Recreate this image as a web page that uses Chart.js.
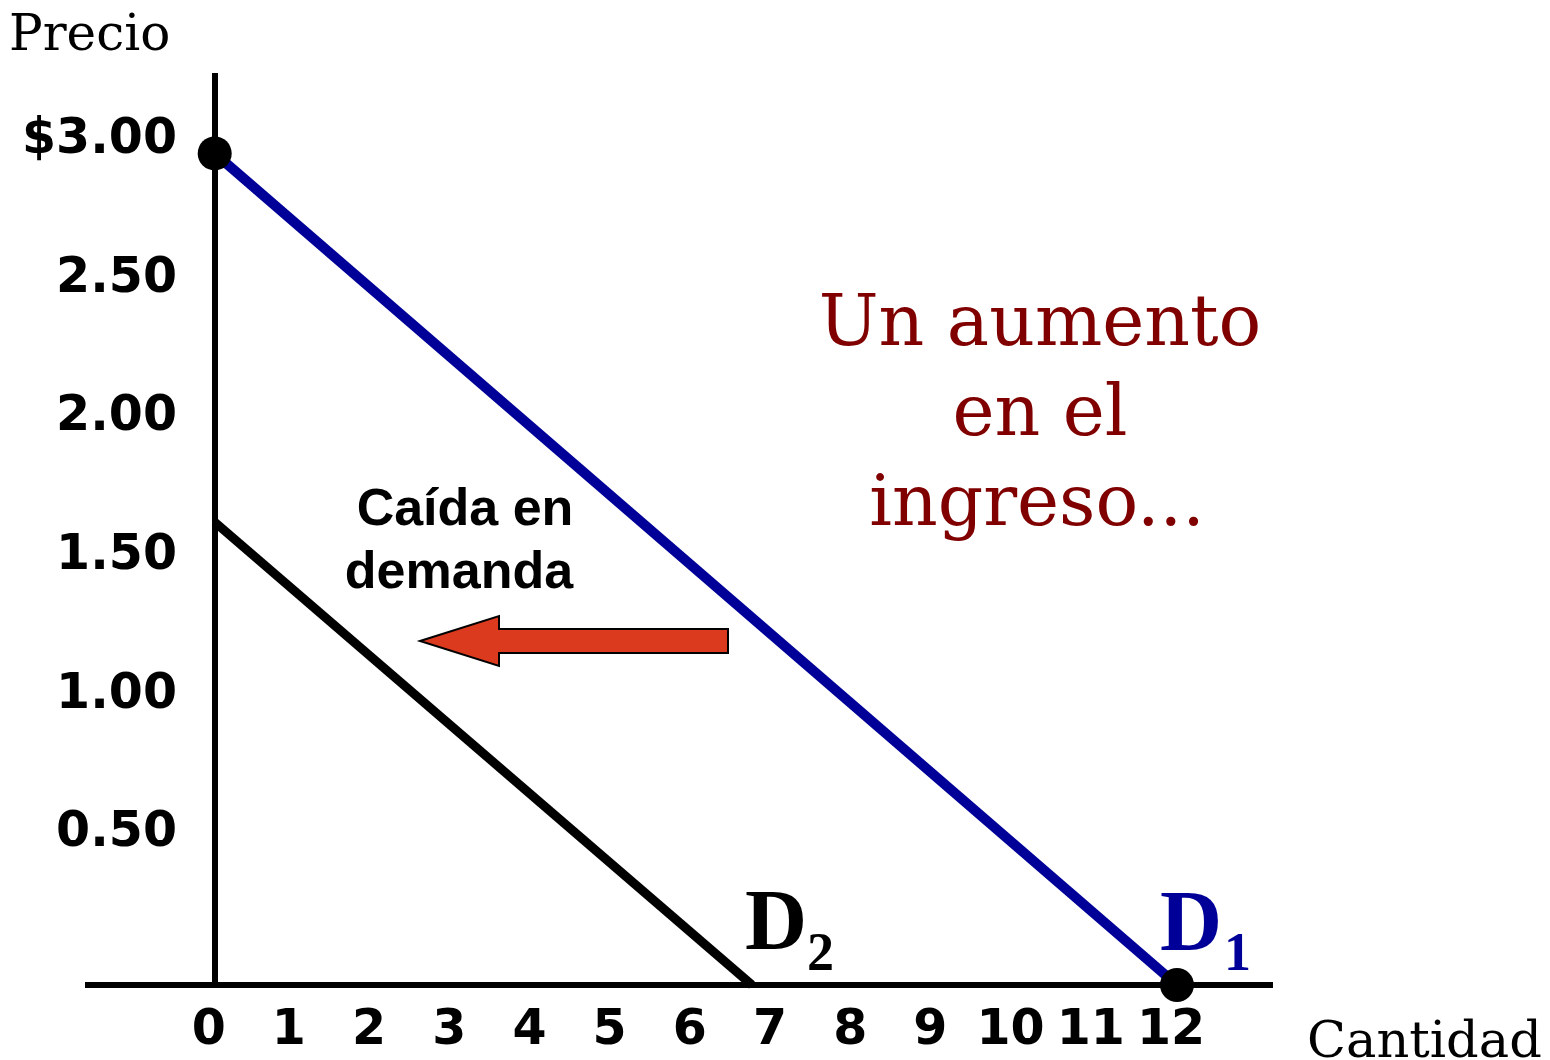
<!DOCTYPE html>
<html>
<head>
<meta charset="utf-8">
<title>Caída en demanda</title>
<script src="https://cdn.jsdelivr.net/npm/chart.js@4.4.1/dist/chart.umd.min.js"></script>
<style>
  html, body { margin: 0; padding: 0; background: #fff; }
  canvas { display: block; }
</style>
</head>
<body>
<canvas id="demandChart" width="1550" height="1060"></canvas>
<script>
// quantity axis ticks
const quantityTicks = [0, 1, 2, 3, 4, 5, 6, 7, 8, 9, 10, 11, 12];
const quantityLabels = ['0', '1', '2', '3', '4', '5', '6', '7', '8', '9', '10', '11', '12'];

// price axis ticks
const priceTicks = [0.5, 1, 1.5, 2, 2.5, 3];
const priceLabels = ['0.50', '1.00', '1.50', '2.00', '2.50', '$3.00'];

// demand curves (quantity, price)
const d1Quantity = [0, 12];
const d1Price = [3, 0];
const d2Quantity = [0, 6.7];
const d2Price = [1.67, 0];

// intercept dots on D1
const dotQuantity = [0, 12];
const dotPrice = [3, 0];

const toPoints = (xs, ys) => xs.map((q, i) => ({ x: q, y: ys[i] }));

// texts and arrow drawn on top of the curves
const notesPlugin = {
  id: 'notes',
  afterDatasetsDraw(chart) {
    const { ctx } = chart;
    ctx.save();
    ctx.textBaseline = 'alphabetic';

    // axis names
    ctx.fillStyle = '#000';
    ctx.textAlign = 'left';
    ctx.font = '50px "DejaVu Serif"';
    ctx.fillText('Precio', 9, 50);
    ctx.font = '51px "DejaVu Serif"';
    ctx.fillText('Cantidad', 1307, 1057);

    // income note
    ctx.fillStyle = '#800000';
    ctx.textAlign = 'center';
    ctx.font = '71px "DejaVu Serif"';
    ctx.fillText('Un aumento', 1040, 345);
    ctx.fillText('en el', 1040, 435);
    ctx.fillText('ingreso...', 1037, 525);

    // shift note
    ctx.fillStyle = '#000';
    ctx.font = 'bold 52px "Liberation Sans"';
    ctx.fillText('Caída en', 465, 525);
    ctx.fillText('demanda', 459, 588);

    // arrow pointing left
    ctx.beginPath();
    ctx.moveTo(420, 641);
    ctx.lineTo(499, 616);
    ctx.lineTo(499, 629);
    ctx.lineTo(728, 629);
    ctx.lineTo(728, 653);
    ctx.lineTo(499, 653);
    ctx.lineTo(499, 666);
    ctx.closePath();
    ctx.fillStyle = '#dc3a1f';
    ctx.fill();
    ctx.lineWidth = 2;
    ctx.strokeStyle = '#000';
    ctx.stroke();

    // curve labels
    ctx.textAlign = 'left';
    ctx.fillStyle = '#000';
    ctx.font = 'bold 86px "Liberation Serif"';
    ctx.fillText('D', 745, 949);
    ctx.font = 'bold 54px "Liberation Serif"';
    ctx.fillText('2', 807, 970);

    ctx.fillStyle = '#000099';
    ctx.font = 'bold 86px "Liberation Serif"';
    ctx.fillText('D', 1160, 950);
    ctx.font = 'bold 54px "Liberation Serif"';
    ctx.fillText('1', 1224, 970);

    ctx.restore();
  }
};

const ctx = document.getElementById('demandChart').getContext('2d');
const demandChart = new Chart(ctx, {
  type: 'line',
  data: {
    datasets: [
      {
        label: 'dots',
        data: toPoints(dotQuantity, dotPrice),
        showLine: false,
        pointRadius: 17,
        pointBackgroundColor: '#000',
        pointBorderWidth: 0,
        order: 0,
        clip: false
      },
      {
        label: 'D1',
        data: toPoints(d1Quantity, d1Price),
        borderColor: '#000099',
        borderWidth: 10,
        pointRadius: 0,
        fill: false,
        order: 1,
        clip: false
      },
      {
        label: 'D2',
        data: toPoints(d2Quantity, d2Price),
        borderColor: '#000',
        borderWidth: 9,
        pointRadius: 0,
        fill: false,
        order: 2,
        clip: false
      }
    ]
  },
  options: {
    responsive: false,
    devicePixelRatio: 1,
    animation: false,
    layout: {
      padding: { left: 88, right: 280, top: 73, bottom: 0 }
    },
    plugins: {
      legend: { display: false },
      tooltip: { enabled: false }
    },
    scales: {
      x: {
        type: 'linear',
        min: -1.58,
        max: 13.16,
        afterBuildTicks: (scale) => {
          scale.ticks = quantityTicks.map(v => ({ value: v }));
        },
        afterFit: (scale) => { scale.height = 75; },
        border: { display: true, color: '#000', width: 6 },
        grid: {
          drawTicks: false,
          lineWidth: 6,
          // only the zero line is drawn: it is the price axis
          color: (c) => (c.tick && c.tick.value === 0 ? '#000' : 'rgba(0,0,0,0)')
        },
        ticks: {
          autoSkip: false,
          maxRotation: 0,
          minRotation: 0,
          padding: 17,
          labelOffset: -6,
          color: '#000',
          font: { family: 'DejaVu Sans', weight: 'bold', size: 49 },
          callback: (value, index) => quantityLabels[index]
        }
      },
      y: {
        type: 'linear',
        min: 0,
        max: 3.29,
        position: { x: -0.47 },
        afterBuildTicks: (scale) => {
          scale.ticks = priceTicks.map(v => ({ value: v }));
        },
        afterFit: (scale) => { scale.width = 0; },
        border: { display: false },
        grid: { display: false, drawTicks: false },
        ticks: {
          autoSkip: false,
          padding: 0,
          labelOffset: -13,
          color: '#000',
          font: { family: 'DejaVu Sans', weight: 'bold', size: 49 },
          callback: (value, index) => priceLabels[index]
        }
      }
    }
  },
  plugins: [notesPlugin]
});
</script>
</body>
</html>
